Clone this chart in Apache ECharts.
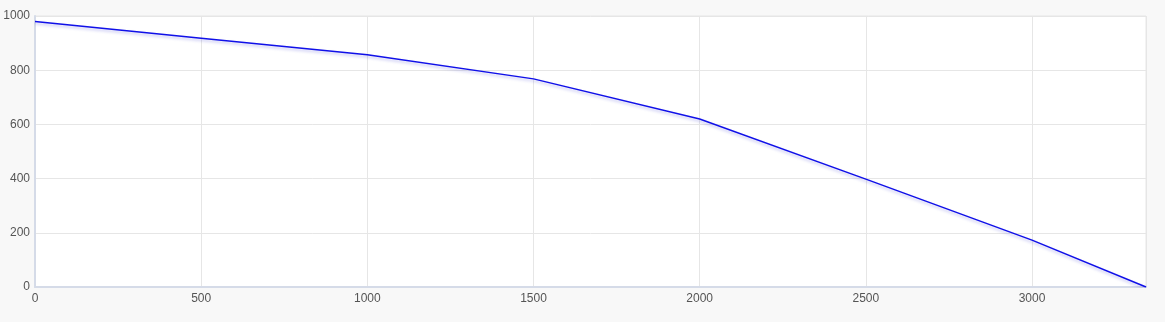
<!DOCTYPE html>
<html><head><meta charset="utf-8">
<script src="https://cdn.jsdelivr.net/npm/echarts@6/dist/echarts.min.js"></script>
<style>html,body{margin:0;padding:0;background:#f8f8f8;}#c{width:1165px;height:322px;}</style>
</head><body><div id="c"></div>
<script>
const xValues = [0, 500, 1000, 1500, 2000, 2500, 3000, 3343];
const yValues = [980, 918, 857, 768, 620, 398, 173, 0];
const xMax = 3343;
const chart = echarts.init(document.getElementById('c'));
chart.setOption({
  animation: false,
  backgroundColor: '#f8f8f8',
  grid: {left: 35, right: 19, top: 16, bottom: 35, show: true, backgroundColor: '#ffffff', borderColor: '#e6e6e6', borderWidth: 1},
  xAxis: {
    type: 'value', min: 0, max: xMax, interval: 500,
    axisLine: {show: true, lineStyle: {color: '#d5dbe8', width: 2}},
    axisTick: {show: false},
    axisLabel: {color: '#555', fontSize: 12, fontFamily: 'Liberation Sans, Arial', margin: 6, showMaxLabel: false, formatter: v => String(v)},
    splitLine: {show: true, lineStyle: {color: '#e6e6e6'}}
  },
  yAxis: {
    type: 'value', min: 0, max: 1000, interval: 200,
    axisLine: {show: true, lineStyle: {color: '#d5dbe8', width: 2}},
    axisTick: {show: false},
    axisLabel: {color: '#555', fontSize: 12, fontFamily: 'Liberation Sans, Arial', margin: 5, formatter: v => String(v)},
    splitLine: {show: true, lineStyle: {color: '#e6e6e6'}}
  },
  series: [{
    type: 'line',
    data: xValues.map((x, i) => [x, yValues[i]]),
    showSymbol: false,
    lineStyle: {color: '#1010e8', width: 1.5, shadowColor: 'rgba(0,0,200,0.25)', shadowBlur: 3, shadowOffsetY: 2}
  }]
});
</script></body></html>
